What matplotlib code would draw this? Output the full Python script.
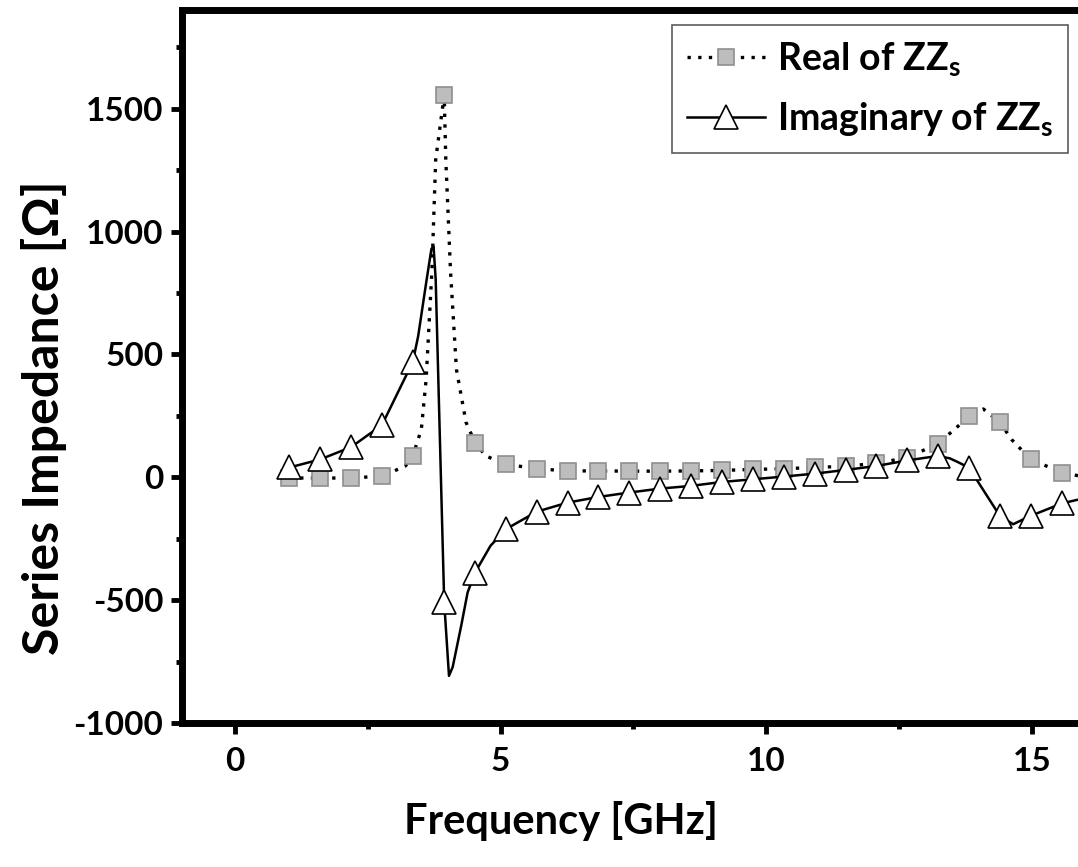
import matplotlib
matplotlib.use("Agg")
import matplotlib.pyplot as plt
from matplotlib.ticker import MultipleLocator

plt.rcParams['font.family'] = ['Lato', 'DejaVu Sans']
plt.rcParams['font.weight'] = 'bold'
plt.rcParams['axes.unicode_minus'] = False
plt.rcParams['mathtext.fontset'] = 'custom'
plt.rcParams['mathtext.rm'] = 'Lato:bold'
plt.rcParams['mathtext.bf'] = 'Lato:bold'
plt.rcParams['mathtext.it'] = 'Lato:bold'

# Real part of the series impedance
freq_re = [1.03, 1.61, 2.19, 2.77, 3.00, 3.21, 3.35, 3.51, 3.60, 3.71, 3.78,
           3.94, 3.97, 4.06, 4.17, 4.35, 4.52, 4.72, 5.10, 5.68, 6.26, 6.84,
           7.42, 8.00, 8.58, 9.16, 9.75, 10.33, 10.91, 11.49, 12.07, 12.65,
           13.23, 13.64, 13.81, 14.08, 14.39, 14.61, 14.97, 15.56, 15.90]
z_re = [-3, -3, -3, 5, 26, 46, 87, 195, 398, 845, 1293,
        1555, 1293, 833, 439, 224, 141, 87, 53, 35, 26, 26,
        25, 25, 26, 28, 32, 35, 40, 45, 57, 80,
        137, 215, 249, 278, 225, 154, 73, 19, 5]
marks_re = [0, 1, 2, 3, 6, 11, 16, 18, 19, 20, 21, 22, 23, 24, 25, 26, 27,
            28, 29, 30, 31, 32, 34, 36, 38, 39]

# Imaginary part of the series impedance
freq_im = [1.03, 1.61, 2.19, 2.77, 3.35, 3.45, 3.61, 3.70, 3.74, 3.78, 3.94,
           4.03, 4.10, 4.26, 4.38, 4.52, 4.81, 5.10, 5.68, 6.26, 6.84, 7.42,
           8.00, 8.58, 9.16, 9.75, 10.33, 10.91, 11.49, 12.07, 12.65, 13.23,
           13.45, 13.60, 13.81, 14.39, 14.64, 14.97, 15.56, 15.90]
z_im = [40, 73, 123, 213, 470, 574, 805, 930, 940, 805, -509,
        -808, -772, -604, -469, -388, -279, -211, -140, -103, -80, -62,
        -46, -35, -19, -8, 3, 15, 30, 46, 69, 87,
        77, 62, 39, -157, -191, -157, -106, -89]
marks_im = [0, 1, 2, 3, 4, 10, 15, 17, 18, 19, 20, 21, 22, 23, 24, 25, 26,
            27, 28, 29, 30, 31, 34, 35, 37, 38]

x_ticks = [0, 5, 10, 15]
y_ticks = [-1000, -500, 0, 500, 1000, 1500]

fig = plt.figure(figsize=(10.78, 8.67), dpi=100)
ax = fig.add_axes([0.1684, 0.1661, 1 - 0.1684, 0.8218])

ax.plot(freq_re, z_re, ls=(0, (1, 2.2)), lw=2.4, color='black',
        marker='s', markevery=marks_re, ms=12, mfc='#bdbdbd', mec='#8f8f8f',
        mew=1.2, label=r'Real of $\mathbf{ZZ_s}$')
ax.plot(freq_im, z_im, ls='-', lw=1.8, color='black',
        marker='^', markevery=marks_im, ms=17, mfc='white', mec='black',
        mew=1.2, label=r'Imaginary of $\mathbf{ZZ_s}$')

ax.set_xlim(-1, 15.86)
ax.set_ylim(-1000, 1900)
ax.set_xticks(x_ticks)
ax.set_yticks(y_ticks)
ax.xaxis.set_minor_locator(MultipleLocator(2.5))
ax.yaxis.set_minor_locator(MultipleLocator(250))

for side in ['left', 'bottom', 'top']:
    ax.spines[side].set_linewidth(5)
ax.spines['right'].set_visible(False)

ax.tick_params(which='major', direction='out', length=8, width=3.5,
               labelsize=24, pad=5)
ax.tick_params(which='minor', direction='out', length=4, width=3.5)
ax.tick_params(axis='x', which='major', pad=9)
for lbl in ax.get_xticklabels() + ax.get_yticklabels():
    lbl.set_fontweight('bold')

ax.set_xlabel('Frequency [GHz]', fontsize=30, fontweight='bold')
ax.xaxis.set_label_coords(0.423, -0.110)
ax.set_ylabel('Series Impedance [Ω]', fontsize=36, fontweight='bold')
ax.yaxis.set_label_coords(-0.128, 0.429)

leg = ax.legend(loc='upper right', bbox_to_anchor=(0.989, 0.980),
                borderaxespad=0, fontsize=27, frameon=True, fancybox=False,
                edgecolor='#333333', handlelength=2.1, handletextpad=0.3,
                borderpad=0.4, labelspacing=0.6)
leg.get_frame().set_linewidth(1.2)

fig.savefig('out.png', dpi=100)
